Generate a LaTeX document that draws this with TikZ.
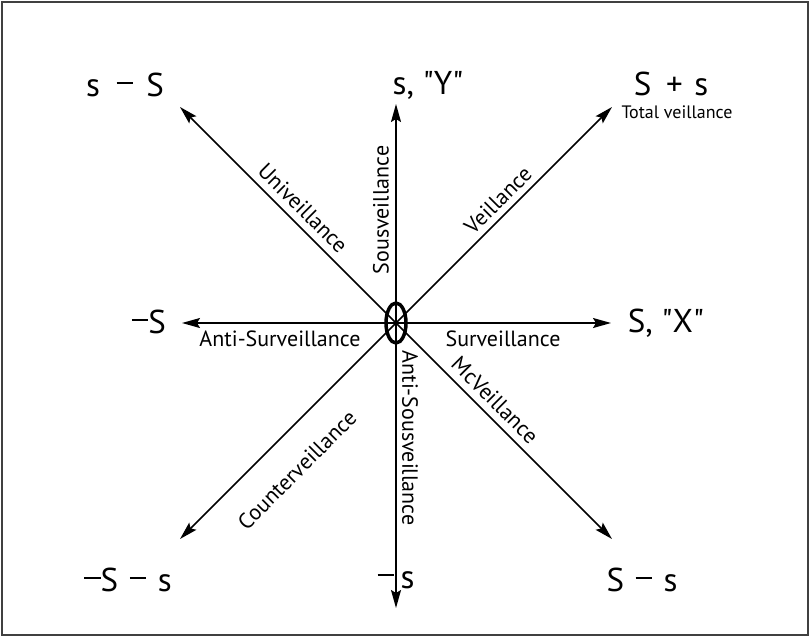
\documentclass[tikz,border=0pt]{standalone}
\usepackage{fontspec}
\setmainfont{PT Sans}
\usetikzlibrary{arrows.meta,positioning,shapes.geometric}
\newcommand{\mns}{\rule[0.37em]{0.5em}{0.065em}}

\begin{document}
\begin{tikzpicture}[x=1pt, y=-1pt,
          axis/.style={-{Stealth[length=18pt, width=10pt, inset=3pt]}, line width=1.5pt},
          pole/.style={font=\fontsize{33}{36}\selectfont, inner sep=0pt},
          axlabel/.style={font=\fontsize{22}{24}\selectfont, inner sep=0pt},
          hubstyle/.style={draw, ellipse, line width=3.5pt, minimum width=20pt,
                           minimum height=40pt, inner sep=0pt}
        ]
          \useasboundingbox (0,0) rectangle (810,637);
          \draw[line width=1.5pt, black!75] (2,2) rectangle (808,635);
          \coordinate (o) at (396,323);
          % arrow tips
          \coordinate (n) at (396,104);
          \coordinate (s) at (396,608);
          \coordinate (e) at (611,323);
          \coordinate (w) at (182,323);
          \coordinate (ne) at (612,107);
          \coordinate (nw) at (180,107);
          \coordinate (se) at (612,539);
          \coordinate (sw) at (180,539);
          \foreach \t in {n,s,e,w,ne,nw,se,sw}
            \draw[axis] (o) -- (\t);
          \node[hubstyle] (hub) at (o) {};
          % end labels
          \node[pole] (nwlab) at (125,85) {s\hspace{0.5em}\mns\hspace{0.4em}S};
          \node[pole] (nlab) at (428,85) {s, \textquotedbl Y\textquotedbl};
          \node[pole] (nelab) at (671,84) {S\hspace{0.45em}+\hspace{0.35em}s};
          \node[font=\fontsize{18}{20}\selectfont, inner sep=0pt] (total) at (677,112) {Total veillance};
          \node[pole] (wlab) at (149,322) {\mns S};
          \node[pole] (elab) at (666,323) {S, \textquotedbl X\textquotedbl};
          \node[pole] (swlab) at (128,580) {\mns S\hspace{0.35em}\mns\hspace{0.35em}s};
          \node[pole] (slab) at (396,580) {\mns\hspace{0.2em}s};
          \node[pole] (selab) at (642,580) {S\hspace{0.35em}\mns\hspace{0.35em}s};
          % axis labels
          \node[axlabel, rotate=-45] (uni) at (303,208) {Univeillance};
          \node[axlabel, rotate=90] (sous) at (381,210) {Sousveillance};
          \node[axlabel, rotate=45] (veil) at (498,200) {Veillance};
          \node[axlabel] (antisurv) at (280,339) {Anti-Surveillance};
          \node[axlabel] (surv) at (503,339) {Surveillance};
          \node[axlabel, rotate=45] (counter) at (297,470) {Counterveillance};
          \node[axlabel, rotate=-90] (antisous) at (410,438) {Anti-Sousveillance};
          \node[axlabel, rotate=-45] (mcv) at (495,400) {McVeillance};
        \end{tikzpicture}
\end{document}
